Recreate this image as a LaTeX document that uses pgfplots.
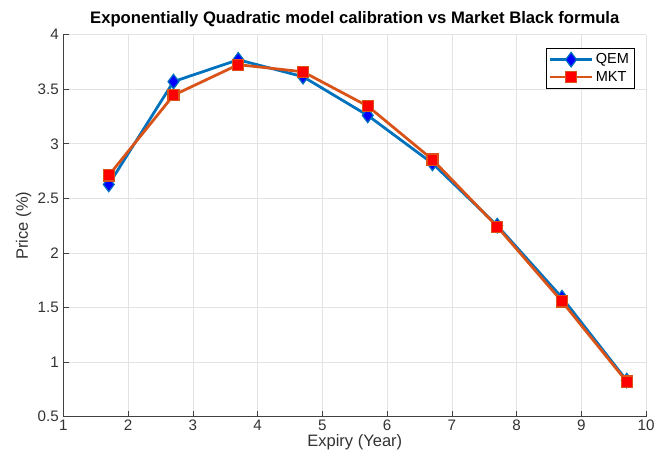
\documentclass[border=0pt]{standalone}
\usepackage{fontspec}
\setmainfont{Liberation Sans}
\usepackage{pgfplots}
\pgfplotsset{compat=1.18}
\definecolor{qline}{RGB}{0,114,189}
\definecolor{qface}{RGB}{0,0,255}
\definecolor{mline}{RGB}{217,83,25}
\definecolor{mface}{RGB}{255,0,0}
\begin{document}
\begin{tikzpicture}[x=1pt,y=1pt]
\begin{axis}[
  at={(0,0)}, anchor=south west,
  scale only axis,
  width=441pt, height=289pt,
  xmin=1, xmax=10, ymin=0.5, ymax=4,
  xtick={1,2,...,10},
  ytick={0.5,1,1.5,2,2.5,3,3.5,4},
  yticklabels={0.5,1,1.5,2,2.5,3,3.5,4},
  axis x line*=bottom, axis y line*=left,
  axis line style={black!75, line width=0.5pt, -},
  tick align=inside,
  tick style={black!75, line width=0.5pt},
  major tick length=4pt,
  grid=major,
  grid style={gray!22, line width=0.5pt},
  /pgf/number format/assume math mode=true,
  ticklabel style={font=\fontsize{11.5}{13}\selectfont, text=black!80},
  xticklabel style={yshift=1pt},
  xlabel={Expiry (Year)}, ylabel={Price (\%)},
  label style={font=\fontsize{12.5}{14}\selectfont, text=black!80},
  xlabel style={yshift=4pt},
  ylabel style={yshift=-2pt},
  title={Exponentially Quadratic model calibration vs Market Black formula},
  title style={font=\bfseries\fontsize{12.6}{14}\selectfont, yshift=-4pt},
  legend style={at={(0.98,0.965)}, anchor=north east, draw=black,
    font=\fontsize{11}{12}\selectfont, inner sep=2pt, row sep=0pt},
  legend cell align=left,
  legend image code/.code={
    \draw[line width=2.1pt, mark repeat=2,mark phase=2] plot coordinates {(0cm,0cm) (0.55cm,0cm) (1.1cm,0cm)};
  },
]
\addplot[color=qline, line width=2.1pt, mark=diamond*, mark size=5.5pt,
  mark options={fill=qface, draw=qline, line width=0.9pt}]
  coordinates {(1.7,2.627) (2.7,3.57) (3.7,3.77) (4.7,3.615) (5.7,3.26) (6.7,2.82) (7.7,2.25) (8.7,1.59) (9.7,0.83)};
\addlegendentry{QEM}
\addplot[color=mline, line width=2.1pt, mark=square*, mark size=4.2pt,
  mark options={fill=mface, draw=mline, line width=0.9pt}]
  coordinates {(1.7,2.71) (2.7,3.445) (3.7,3.725) (4.7,3.66) (5.7,3.345) (6.7,2.855) (7.7,2.24) (8.7,1.555) (9.7,0.82)};
\addlegendentry{MKT}
\end{axis}
\path[use as bounding box] ([xshift=-48pt, yshift=-36.75pt]current axis.south west) rectangle ([xshift=5.25pt, yshift=26.25pt]current axis.north east);
\end{tikzpicture}
\end{document}
